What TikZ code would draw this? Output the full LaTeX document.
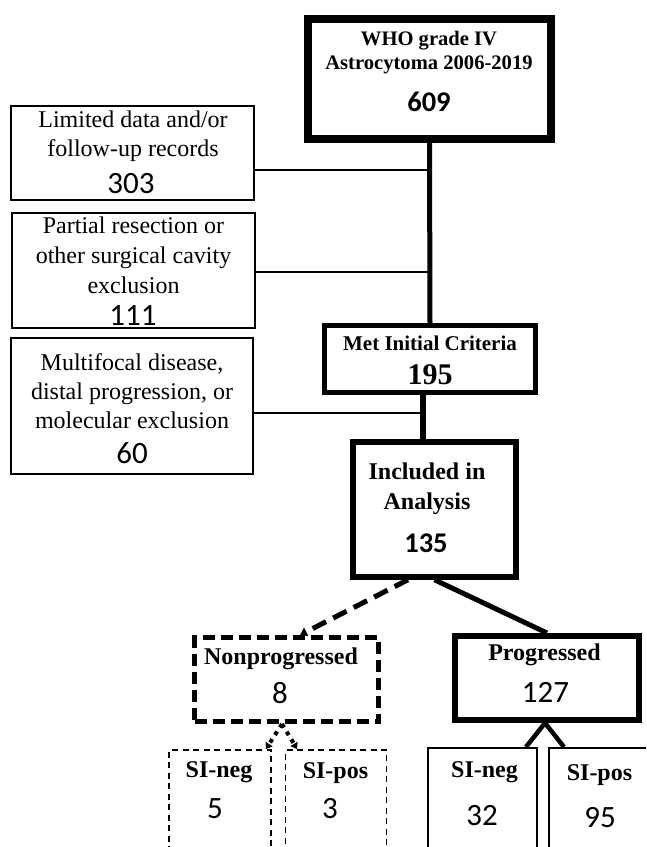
\documentclass[tikz,border=0pt]{standalone}
\usepackage{fontspec}
\setmainfont{Liberation Serif}
\newfontfamily\carl{Carlito}
\usetikzlibrary{arrows.meta}
\begin{document}
\begin{tikzpicture}[x=1pt,y=-1pt,
  thinbox/.style={draw,line width=1.6pt,inner sep=0pt},
  heavybox/.style={draw,line width=#1,inner sep=0pt},
  dashbox/.style={draw,line width=5pt,inner sep=0pt,dash pattern=on 12pt off 6pt},
  sibox/.style={draw,line width=1.8pt,inner sep=0pt,dash pattern=on 6pt off 4.5pt},
  sz/.style 2 args={minimum width=#1,minimum height=#2},
  txt/.style={anchor=base,inner sep=0pt,font=\fontsize{24}{28}\selectfont},
  btxt/.style={anchor=base,inner sep=0pt,font=\fontsize{24}{28}\selectfont\bfseries},
  whotxt/.style={anchor=base,inner sep=0pt,font=\fontsize{20.6}{24}\selectfont\bfseries},
  num/.style={anchor=base,inner sep=0pt,font=\fontsize{31}{34}\selectfont\carl},
  bnum/.style={anchor=base,inner sep=0pt,font=\fontsize{28.5}{34}\selectfont\carl\bfseries},
  thinline/.style={line width=1.5pt},
  flow/.style={line width=#1},
  dotarrow/.style={line width=4pt,dash pattern=on 4pt off 5pt,-{Triangle[length=6pt,width=8pt]}}
]
\useasboundingbox (0,0) rectangle (646,847);
\clip (0,0) rectangle (646,847);
\fill[white] (0,0) rectangle (646,847);

% boxes
\node[heavybox=8pt,sz={243pt}{120pt}] (who) at (429.5,79) {};
\node[thinbox,sz={243pt}{94pt}] (lim) at (132.5,153) {};
\node[thinbox,sz={243pt}{115pt}] (par) at (133.5,270.5) {};
\node[thinbox,sz={242pt}{136pt}] (mul) at (132,406) {};
\node[heavybox=5pt,sz={211pt}{67pt}] (met) at (430,359) {};
\node[heavybox=5.5pt,sz={163pt}{135pt}] (inc) at (434.5,509.5) {};
\node[dashbox,sz={184pt}{84pt}] (non) at (286.5,679.5) {};
\node[heavybox=6pt,sz={184pt}{84pt}] (pro) at (547,678) {};
\node[sibox,sz={102pt}{120pt}] (sn1) at (220,810) {};
\node[sibox,sz={101pt}{120pt}] (sp1) at (336,810) {};
\node[thinbox,line width=2pt,sz={109pt}{120pt}] (sn2) at (482.5,808) {};
\node[thinbox,line width=2pt,sz={111pt}{120pt}] (sp2) at (604.5,808) {};

% texts
\node[whotxt] (who1) at (429,45) {WHO grade IV};
\node[whotxt] (who2) at (429,69) {Astrocytoma 2006-2019};
\node[bnum] (who3) at (429,111) {609};

\node[txt] (lim1) at (133,127) {Limited data and/or};
\node[txt] (lim2) at (133,156) {follow-up records};
\node[num] (lim3) at (131,193) {303};

\node[txt] (par1) at (133.5,233) {Partial resection or};
\node[txt] (par2) at (133.5,263) {other surgical cavity};
\node[txt] (par3) at (133.5,293) {exclusion};
\node[num] (par4) at (133,325) {111};

\node[txt] (mul1) at (132,370) {Multifocal disease,};
\node[txt] (mul2) at (132,399) {distal progression, or};
\node[txt] (mul3) at (132,428) {molecular exclusion};
\node[num] (mul4) at (132,463) {60};

\node[whotxt,font=\fontsize{21}{24}\selectfont\bfseries] (met1) at (430,350) {Met Initial Criteria};
\node[anchor=base,inner sep=0pt,font=\fontsize{30}{34}\selectfont\bfseries] (met2) at (430,384) {195};

\node[btxt] (inc1) at (427,479) {Included in};
\node[btxt] (inc2) at (427,509) {Analysis};
\node[bnum] (inc3) at (426,552) {135};

\node[btxt] (non1) at (281,664) {Nonprogressed};
\node[num] (non2) at (280,703) {8};
\node[btxt] (pro1) at (544.5,660) {Progressed};
\node[num] (pro2) at (545.5,702) {127};

\node[btxt] (sn1a) at (219,777) {SI-neg};
\node[num] (sn1b) at (215,818) {5};
\node[btxt] (sp1a) at (335.5,778) {SI-pos};
\node[num] (sp1b) at (330,818) {3};
\node[btxt] (sn2a) at (484.5,777) {SI-neg};
\node[num] (sn2b) at (482,825) {32};
\node[btxt] (sp2a) at (599.5,780) {SI-pos};
\node[num] (sp2b) at (600,827) {95};

% connectors
\coordinate (j1) at (429.5,170);
\coordinate (j2) at (429.5,272);
\coordinate (j3) at (423,413);
\draw[thinline] (lim.east |- j1) -- (j1);
\draw[thinline] (par.east |- j2) -- (j2);
\draw[thinline] (mul.east |- j3) -- (j3);
\draw[flow=5pt] (who.south) -- (met.north);
\draw[flow=6pt] (met.south -| j3) -- (inc.north -| j3);
\draw[flow=5pt,dash pattern=on 15pt off 8pt,-{Triangle[length=7pt,width=9pt]}]
  ([xshift=-26.5pt]inc.south) -- ([xshift=13.5pt]non.north);
\draw[flow=5pt] (inc.south) -- (pro.north);
\draw[dotarrow] ([xshift=-4.5pt]non.south) -- ([xshift=-6pt]sn1.north east);
\draw[dotarrow] ([xshift=-4.5pt]non.south) -- ([xshift=12.5pt]sp1.north west);
\draw[flow=4.5pt] ([xshift=-2pt]pro.south) -- ([xshift=-12pt]sn2.north east);
\draw[flow=4.5pt] ([xshift=-2pt]pro.south) -- ([xshift=16pt]sp2.north west);
\end{tikzpicture}
\end{document}
